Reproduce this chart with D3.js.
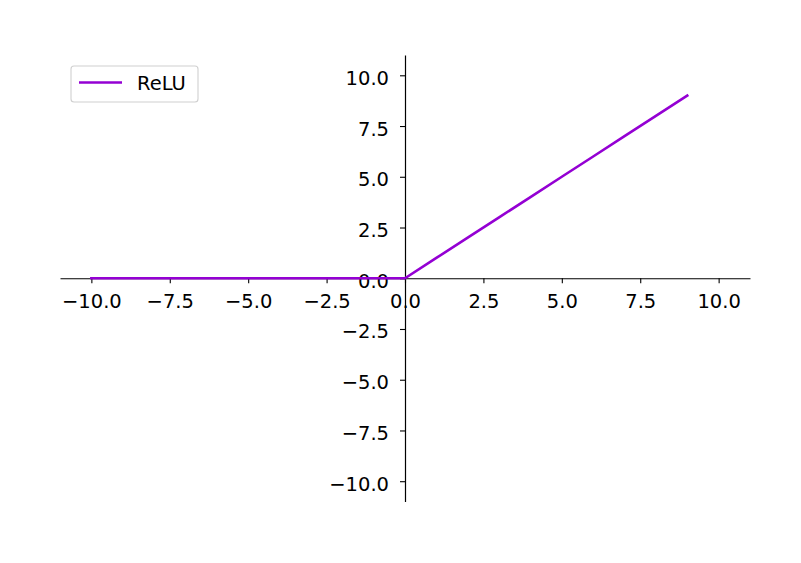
<!DOCTYPE html>
<html>
<head>
<meta charset="utf-8">
<script src="https://cdn.jsdelivr.net/npm/d3@7"></script>
<style>
  html, body { margin: 0; padding: 0; background: #fff; }
  svg { display: block; }
  text { font-family: "DejaVu Sans", sans-serif; }
</style>
</head>
<body>
<svg id="chart" width="801" height="563"></svg>
<script>
// Data
const xValues = [-10, -9, -8, -7, -6, -5, -4, -3, -2, -1, 0, 1, 2, 3, 4, 5, 6, 7, 8, 9];
const reluValues = [0, 0, 0, 0, 0, 0, 0, 0, 0, 0, 0, 1, 2, 3, 4, 5, 6, 7, 8, 9];
const xTicks = [-10, -7.5, -5, -2.5, 0, 2.5, 5, 7.5, 10];
const yTicks = [-10, -7.5, -5, -2.5, 0, 2.5, 5, 7.5, 10];
const seriesName = "ReLU";
const seriesColor = "#9400D3";

const svg = d3.select("#chart");
const x = d3.scaleLinear().domain([-11, 11]).range([60, 750]);
const y = d3.scaleLinear().domain([-11, 11]).range([501.5, 55]);
const fmt = d3.format(".1f");
const fontSize = "19.5px";

// X axis through y=0
const gx = svg.append("g")
  .attr("transform", `translate(0,${y(0)})`)
  .call(d3.axisBottom(x).tickValues(xTicks).tickFormat(fmt).tickSize(5).tickSizeOuter(0).tickPadding(11));
// Y axis through x=0
const gy = svg.append("g")
  .attr("transform", `translate(${x(0)},0)`)
  .call(d3.axisLeft(y).tickValues(yTicks).tickFormat(fmt).tickSize(5).tickSizeOuter(0).tickPadding(11));

[gx, gy].forEach(g => {
  g.attr("font-family", null).attr("font-size", null);
  g.selectAll(".domain").attr("stroke", "#000").attr("stroke-width", 1.2);
  g.selectAll(".tick line").attr("stroke", "#000").attr("stroke-width", 1.1);
  g.selectAll(".tick text").attr("fill", "#000").style("font-size", fontSize)
    .style("font-family", "'DejaVu Sans', sans-serif");
});
gy.selectAll(".tick text").attr("dy", "0.46em");

// Line
const line = d3.line().x((d, i) => x(xValues[i])).y(d => y(d));
svg.append("path")
  .datum(reluValues)
  .attr("fill", "none")
  .attr("stroke", seriesColor)
  .attr("stroke-width", 2.6)
  .attr("stroke-linecap", "square")
  .attr("d", line);

// Legend
const lg = svg.append("g");
lg.append("rect")
  .attr("x", 71).attr("y", 66).attr("width", 127).attr("height", 36)
  .attr("rx", 3).attr("fill", "#fff").attr("fill-opacity", 0.8)
  .attr("stroke", "#d0d0d0").attr("stroke-width", 1.1);
lg.append("line")
  .attr("x1", 79).attr("x2", 122).attr("y1", 82.5).attr("y2", 82.5)
  .attr("stroke", seriesColor).attr("stroke-width", 2.6);
lg.append("text")
  .attr("x", 137).attr("y", 89.5)
  .style("font-size", fontSize).attr("fill", "#000")
  .text(seriesName);
</script>
</body>
</html>
